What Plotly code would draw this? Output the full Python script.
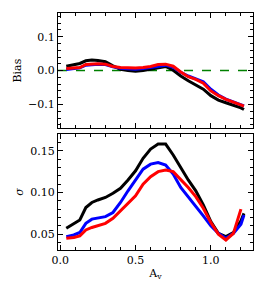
import plotly.graph_objects as go
from plotly.subplots import make_subplots

av = [0.04, 0.09, 0.13, 0.17, 0.21, 0.25, 0.30, 0.35, 0.40, 0.45, 0.50, 0.55, 0.60,
      0.65, 0.70, 0.75, 0.80, 0.85, 0.90, 0.95, 1.00, 1.05, 1.10, 1.15, 1.20, 1.22]

bias_black = [0.013, 0.018, 0.021, 0.029, 0.031, 0.030, 0.026, 0.014, 0.004, 0.000, -0.002,
              0.000, 0.004, 0.010, 0.012, 0.001, -0.016, -0.030, -0.042, -0.055, -0.074,
              -0.087, -0.095, -0.102, -0.110, -0.115]
bias_blue = [0.003, 0.005, 0.008, 0.016, 0.018, 0.019, 0.018, 0.011, 0.007, 0.005, 0.004,
             0.006, 0.009, 0.014, 0.016, 0.010, -0.005, -0.016, -0.024, -0.033, -0.055,
             -0.072, -0.084, -0.092, -0.101, -0.104]
bias_red = [0.006, 0.007, 0.009, 0.018, 0.020, 0.020, 0.019, 0.012, 0.009, 0.008, 0.008,
            0.009, 0.012, 0.018, 0.019, 0.013, -0.004, -0.018, -0.026, -0.037, -0.060,
            -0.074, -0.085, -0.093, -0.102, -0.105]

sig_black = [0.057, 0.062, 0.067, 0.082, 0.088, 0.091, 0.094, 0.099, 0.105, 0.115, 0.126,
             0.141, 0.152, 0.158, 0.158, 0.145, 0.130, 0.115, 0.102, 0.085, 0.065, 0.051,
             0.047, 0.052, 0.066, 0.075]
sig_blue = [0.047, 0.049, 0.052, 0.063, 0.068, 0.069, 0.071, 0.076, 0.088, 0.102, 0.115,
            0.128, 0.134, 0.136, 0.133, 0.122, 0.106, 0.095, 0.083, 0.072, 0.060, 0.051,
            0.045, 0.051, 0.062, 0.073]
sig_red = [0.045, 0.046, 0.048, 0.055, 0.058, 0.060, 0.063, 0.069, 0.078, 0.087, 0.096,
           0.110, 0.119, 0.125, 0.127, 0.125, 0.116, 0.106, 0.095, 0.081, 0.064, 0.050,
           0.043, 0.051, 0.080, None]

colors = {"black": "#000000", "blue": "#0000ff", "red": "#ff0000"}
font = "DejaVu Serif"

fig = make_subplots(rows=2, cols=1)
fig.update_layout(
    xaxis=dict(domain=[0, 1], anchor="y"),
    yaxis=dict(domain=[0.514, 1.0], anchor="x"),
    xaxis2=dict(domain=[0, 1], anchor="y2"),
    yaxis2=dict(domain=[0.0, 0.489], anchor="x2"),
)

# zero line
fig.add_trace(go.Scatter(x=[-0.015, 1.28], y=[0, 0], mode="lines",
                         line=dict(color="#008000", width=1.5, dash="dash"),
                         showlegend=False, hoverinfo="skip"), row=1, col=1)

for name, b, s in [("black", bias_black, sig_black),
                   ("blue", bias_blue, sig_blue),
                   ("red", bias_red, sig_red)]:
    fig.add_trace(go.Scatter(x=av, y=b, mode="lines", line=dict(color=colors[name], width=3),
                             showlegend=False), row=1, col=1)
    fig.add_trace(go.Scatter(x=av, y=s, mode="lines", line=dict(color=colors[name], width=3),
                             showlegend=False), row=2, col=1)

axis_common = dict(showline=True, linecolor="black", linewidth=1.3, mirror="ticks",
                   ticks="inside", ticklen=5, tickwidth=1, tickcolor="black",
                   showgrid=False, zeroline=False, automargin=False,
                   tickfont=dict(family=font, size=11, color="black"))

fig.update_xaxes(range=[-0.015, 1.28], tickvals=[0.0, 0.5, 1.0],
                 minor=dict(dtick=0.1, tick0=0, ticks="inside", ticklen=3, tickcolor="black"),
                 **axis_common)
fig.update_xaxes(showticklabels=False, row=1, col=1)
fig.update_xaxes(ticktext=["0.0", "0.5", "1.0"], tickvals=[0.0, 0.5, 1.0],
                 title=dict(text="A<sub>v</sub>", font=dict(family=font, size=11, color="black"),
                            standoff=2), row=2, col=1)

fig.update_yaxes(range=[-0.17, 0.17], tickvals=[-0.1, 0.0, 0.1], ticktext=["\u22120.1", "0.0", "0.1"],
                 minor=dict(dtick=0.02, tick0=0, ticks="inside", ticklen=3, tickcolor="black"),
                 title=dict(text="Bias", font=dict(family=font, size=11, color="black"), standoff=4),
                 row=1, col=1, **axis_common)
fig.update_yaxes(range=[0.031, 0.17], tickvals=[0.05, 0.10, 0.15], ticktext=["0.05", "0.10", "0.15"],
                 minor=dict(dtick=0.01, tick0=0, ticks="inside", ticklen=3, tickcolor="black"),
                 title=dict(text="<i>\u03c3</i>", font=dict(family=font, size=11, color="black"), standoff=4),
                 row=2, col=1, **axis_common)

fig.update_layout(width=266, height=292, margin=dict(l=58, r=13, t=13, b=42),
                  paper_bgcolor="white", plot_bgcolor="white",
                  font=dict(family=font, size=11, color="black"))

fig.write_html("out.html", config={"displayModeBar": False},
               post_script="document.body.style.margin='0';document.body.style.padding='0';")
